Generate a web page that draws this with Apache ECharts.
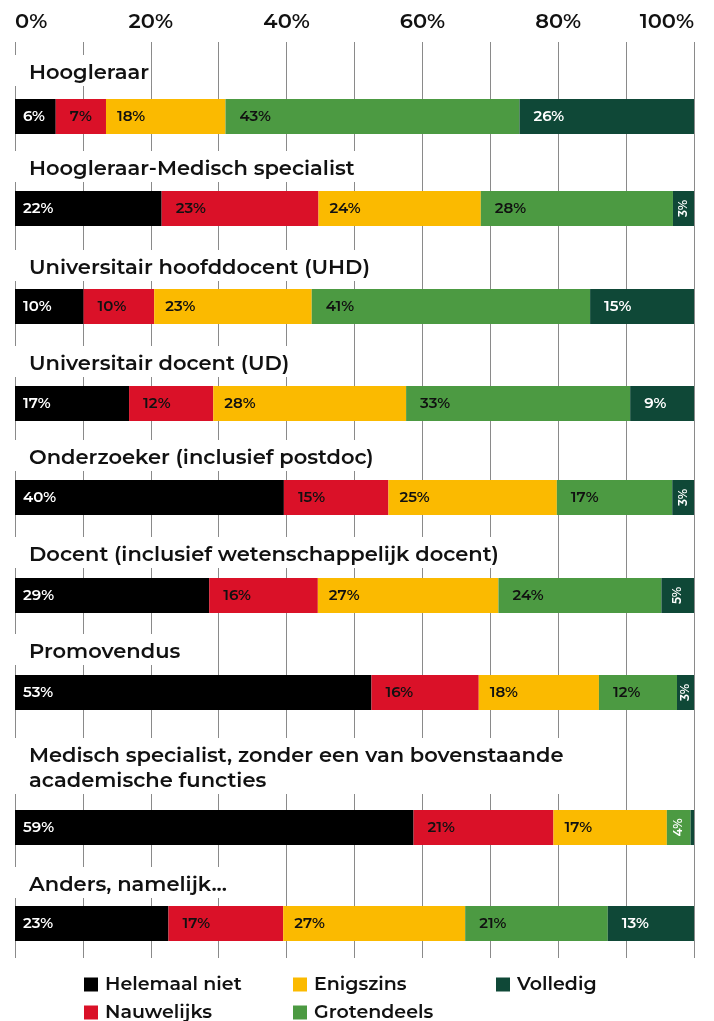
<!DOCTYPE html>
<html>
<head>
<meta charset="utf-8">
<script src="https://cdn.jsdelivr.net/npm/echarts@6/dist/echarts.min.js"></script>
<style>
  html, body { margin: 0; padding: 0; background: #fff; }
  #chart { width: 714px; height: 1021px; }
</style>
</head>
<body>
<div id="chart"></div>
<script>
var chartDom = document.getElementById('chart');
var myChart = echarts.init(chartDom);
var option;

// categories (one bar each), top to bottom
const categories = [
  'Hoogleraar',
  'Hoogleraar-Medisch specialist',
  'Universitair hoofddocent (UHD)',
  'Universitair docent (UD)',
  'Onderzoeker (inclusief postdoc)',
  'Docent (inclusief wetenschappelijk docent)',
  'Promovendus',
  'Medisch specialist, zonder een van bovenstaande\nacademische functies',
  'Anders, namelijk...'
];
const seriesNames = ['Helemaal niet', 'Nauwelijks', 'Enigszins', 'Grotendeels', 'Volledig'];

// shares in % per category
const helemaalNiet = [6.0, 21.6, 10.1, 16.8, 39.6, 28.6, 52.5, 58.7, 22.6];
const nauwelijks   = [7.4, 23.1, 10.4, 12.4, 15.4, 16.0, 15.8, 20.6, 16.9];
const enigszins    = [17.6, 23.9, 23.2, 28.4, 24.8, 26.6, 17.7, 16.7, 26.8];
const grotendeels  = [43.3, 28.3, 41.0, 33.0, 17.0, 24.0, 11.5, 3.5, 21.0];
const volledig     = [25.7, 3.1, 15.3, 9.4, 3.2, 4.8, 2.5, 0.5, 12.7];
const values = [helemaalNiet, nauwelijks, enigszins, grotendeels, volledig];

const xTicks = [0, 20, 40, 60, 80, 100];

// layout (pixels)
const colors = ['#000000', '#DA1128', '#FBBA00', '#4C9A42', '#0F4837'];
const labelColors = ['#ffffff', '#111111', '#111111', '#111111', '#ffffff'];
const labelDist = [8, 14, 11, 14, 14];
const barTops = [99, 191, 289, 386, 480, 578, 675, 810, 906];
const titleTops = [55, 151, 250, 346, 440, 537, 634, 738, 867];
const legendPos = [[79, 970], [79, 998], [288, 970], [288, 998], [491, 970]];
const barHeight = 35;
const font = 'Montserrat, "Open Sans", sans-serif';

const grids = [{ left: 15, right: 20, top: 42, bottom: 63 }];
const xAxes = [{
  gridIndex: 0, type: 'value', min: 0, max: 100, interval: 10, position: 'top',
  axisLine: { show: false }, axisTick: { show: false },
  splitLine: { show: true, lineStyle: { color: '#8a8a8a', width: 1 } },
  axisLabel: {
    margin: 10, fontSize: 21, fontWeight: 600, color: '#111', fontFamily: font,
    alignMinLabel: 'left', alignMaxLabel: 'right',
    formatter: function (v) { return xTicks.indexOf(v) >= 0 ? v + '%' : ''; }
  }
}];
const yAxes = [{ gridIndex: 0, type: 'value', show: false }];
const titles = [];
const series = [];

categories.forEach(function (cat, i) {
  const g = i + 1;
  grids.push({ left: 15, right: 20, top: barTops[i], height: barHeight });
  xAxes.push({ gridIndex: g, type: 'value', min: 0, max: 100, show: false });
  yAxes.push({ gridIndex: g, type: 'category', data: [cat], show: false });
  titles.push({
    text: cat, left: 13, top: titleTops[i],
    backgroundColor: '#fff', padding: [5, 2, 1, 16],
    textStyle: { fontSize: 21, fontWeight: 600, color: '#111', lineHeight: 25, fontFamily: font }
  });
  seriesNames.forEach(function (name, s) {
    const v = values[s][i];
    const small = v < 5.5;
    series.push({
      name: name, type: 'bar', stack: 'row' + i,
      xAxisIndex: g, yAxisIndex: g,
      barWidth: '100%',
      itemStyle: { color: colors[s] },
      label: {
        show: v >= 1,
        position: small ? 'inside' : 'insideLeft',
        distance: labelDist[s],
        rotate: small ? 90 : 0,
        color: small ? '#fff' : labelColors[s],
        fontSize: small ? 12 : 15, fontWeight: 600, fontFamily: font,
        formatter: function (p) { return Math.round(p.value) + '%'; }
      },
      emphasis: { disabled: true },
      data: [v]
    });
  });
});

// one legend box per entry so the items sit in columns like the original
const legends = seriesNames.map(function (name, s) {
  return {
    data: [name], left: legendPos[s][0], top: legendPos[s][1],
    icon: 'rect', itemWidth: 14, itemHeight: 14, selectedMode: false,
    textStyle: { fontSize: 19, fontWeight: 600, color: '#111', fontFamily: font, padding: [0, 0, 0, 2] }
  };
});

option = {
  animation: false,
  color: colors,
  title: titles,
  grid: grids,
  xAxis: xAxes,
  yAxis: yAxes,
  legend: legends,
  series: series
};

option && myChart.setOption(option);
</script>
</body>
</html>
